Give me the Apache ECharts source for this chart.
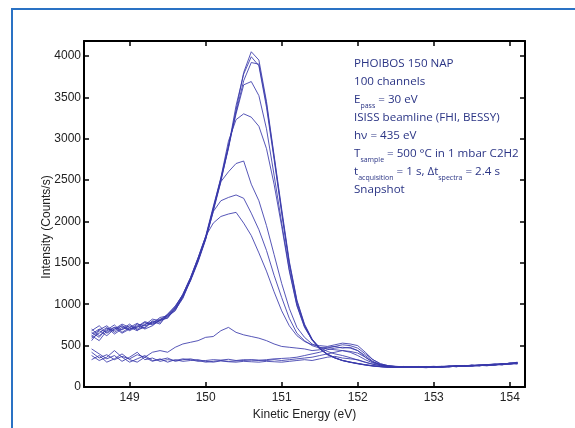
<!DOCTYPE html>
<html>
<head>
<meta charset="utf-8">
<script src="https://cdn.jsdelivr.net/npm/echarts@6/dist/echarts.min.js"></script>
<style>html,body{margin:0;padding:0;background:#fff;}#c{width:575px;height:428px;}</style>
</head>
<body>
<div id="c"></div>
<script>
// Kinetic energy (eV) channels
const energy = [148.5,148.6,148.7,148.8,148.9,149.0,149.1,149.2,149.3,149.4,
  149.5,149.6,149.7,149.8,149.9,150.0,150.1,150.2,150.3,150.4,
  150.5,150.6,150.7,150.8,150.9,151.0,151.1,151.2,151.3,151.4,
  151.5,151.6,151.7,151.8,151.9,152.0,152.1,152.2,152.3,152.4,
  152.5,152.6,152.7,152.8,152.9,153.0,153.1,153.2,153.3,153.4,
  153.5,153.6,153.7,153.8,153.9,154.0,154.1];

// Snapshot spectra (Counts/s)
const spec1 = [640,700,660,720,690,740,700,760,780,820,
  850,940,1080,1300,1540,1800,2150,2500,2880,3350,
  3800,4050,3950,3450,2800,2150,1520,1050,760,580,
  470,400,355,320,300,285,268,258,248,242,
  238,245,240,236,244,240,248,252,245,258,
  262,255,270,275,268,290,285];
const spec2 = [590,650,720,640,700,760,690,720,800,780,
  860,920,1100,1280,1510,1780,2120,2480,2900,3400,
  3780,3990,3880,3380,2750,2100,1480,1020,740,570,
  460,390,350,318,298,280,265,252,244,238,
  242,236,244,240,232,246,242,250,256,248,
  260,266,258,272,280,276,292];
const spec3 = [700,620,690,750,660,720,770,700,740,810,
  830,960,1120,1320,1560,1820,2180,2520,2920,3320,
  3700,3920,3900,3420,2780,2120,1500,1040,750,575,
  465,395,352,322,302,284,270,256,246,240,
  236,242,238,244,238,236,246,244,252,256,
  250,262,268,264,278,282,296];
const spec4 = [560,680,620,700,740,680,730,790,760,800,
  870,950,1090,1290,1520,1790,2140,2510,2900,3300,
  3650,3690,3520,3120,2560,1980,1420,990,730,565,
  460,395,350,320,300,282,266,254,246,238,
  240,244,236,242,240,244,238,250,246,256,
  252,260,270,268,276,288,280];
const spec5 = [620,560,680,720,650,700,740,710,790,760,
  880,980,1110,1310,1550,1810,2160,2530,2970,3230,
  3300,3260,3150,2880,2450,1940,1400,980,720,570,
  480,430,400,380,355,325,298,275,258,248,
  244,238,246,240,248,236,244,248,254,250,
  258,264,262,274,270,284,292];
const spec6 = [680,740,650,700,760,720,680,750,820,800,
  840,930,1070,1290,1530,1800,2150,2480,2600,2700,
  2730,2450,2250,1950,1600,1250,950,720,600,520,
  480,460,450,440,420,380,330,290,265,250,
  242,248,240,236,244,250,242,246,258,252,
  262,258,270,266,282,278,290];
const spec7 = [610,690,740,660,720,690,760,740,770,840,
  860,950,1100,1300,1530,1790,2120,2250,2290,2320,
  2280,2100,1900,1650,1350,1080,830,650,560,500,
  470,480,490,470,480,440,360,300,270,252,
  246,240,248,242,238,246,250,244,252,260,
  256,264,272,268,280,286,284];
const spec8 = [660,600,710,680,740,700,720,780,750,810,
  880,970,1120,1320,1560,1820,1980,2060,2090,2110,
  1980,1830,1620,1400,1150,920,740,620,550,510,
  500,490,510,530,520,500,420,330,280,258,
  248,242,238,246,240,244,248,242,256,254,
  262,256,266,276,272,288,294];
const spec9 = [420,350,390,330,370,340,390,360,420,440,
  420,480,520,540,560,600,610,680,720,660,
  630,610,590,560,520,490,480,470,460,440,
  450,470,490,510,500,470,400,330,280,258,
  250,244,240,248,242,246,238,250,256,252,
  264,260,270,278,274,284,300];
const spec10 = [460,400,340,380,310,360,420,330,350,310,
  330,320,340,330,310,320,330,325,335,320,
  330,325,320,330,340,345,350,360,380,400,
  420,450,470,480,470,440,380,310,270,255,
  246,240,248,244,236,242,248,252,246,258,
  256,266,262,272,280,276,288];
const spec11 = [380,320,360,440,360,300,340,380,320,330,
  350,310,330,340,320,300,310,320,310,315,
  320,330,325,320,330,320,330,340,350,360,
  380,400,420,440,430,410,360,300,268,250,
  244,248,238,242,246,238,244,254,250,256,
  262,258,268,264,276,282,278];
const spec12 = [330,380,300,340,400,330,300,360,310,340,
  300,330,310,320,330,310,300,315,305,300,
  310,305,300,310,305,300,310,320,330,320,
  340,360,370,350,340,330,300,275,258,246,
  240,244,242,236,240,246,240,248,252,250,
  258,262,256,270,268,280,286];

const spectra = [spec1,spec2,spec3,spec4,spec5,spec6,spec7,spec8,spec9,spec10,spec11,spec12];

const xTicks = [149,150,151,152,153,154];
const yTicks = [0,500,1000,1500,2000,2500,3000,3500,4000];

const annotation = [
  'PHOIBOS 150 NAP',
  '100 channels',
  'E{s|pass} = 30 eV',
  'ISISS beamline (FHI, BESSY)',
  'hν = 435 eV',
  'T{s|sample} = 500 °C in 1 mbar C2H2',
  't{s|acquisition} = 1 s, Δt{s|spectra} = 2.4 s',
  'Snapshot'
];

const axisFont = 'Liberation Sans, Arial, sans-serif';
const noteFont = '"Open Sans", sans-serif';
const lineColor = 'rgba(56,56,170,0.85)';

const chart = echarts.init(document.getElementById('c'), null, {renderer:'canvas'});

function plain(v){ return String(v); }

function xAx(pos, showLabel){
  return {
    type:'value', position:pos, min:148.4, max:154.2,
    axisLine:{show:true, onZero:false, lineStyle:{color:'#000', width:2}},
    axisTick:{show:true, inside:true, length:5, customValues:xTicks, lineStyle:{color:'#000', width:1.5}},
    axisLabel:{show:showLabel, customValues:xTicks, formatter:plain, color:'#222', fontSize:12, fontFamily:axisFont, margin:5},
    splitLine:{show:false},
    name: showLabel ? 'Kinetic Energy (eV)' : '',
    nameLocation:'middle', nameGap:19,
    nameTextStyle:{color:'#222', fontSize:12, fontFamily:axisFont}
  };
}
function yAx(pos, showLabel){
  return {
    type:'value', position:pos, min:0, max:4180,
    axisLine:{show:true, onZero:false, lineStyle:{color:'#000', width:2}},
    axisTick:{show:true, inside:true, length:5, customValues:yTicks, lineStyle:{color:'#000', width:1.5}},
    axisLabel:{show:showLabel, customValues:yTicks, formatter:plain, color:'#222', fontSize:12, fontFamily:axisFont, margin:3},
    splitLine:{show:false}
  };
}

const option = {
  backgroundColor:'#fff',
  animation:false,
  grid:{left:84, right:50, top:41, bottom:41, containLabel:false},
  xAxis:[xAx('bottom', true), xAx('top', false)],
  yAxis:[yAx('left', true), yAx('right', false)],
  series: spectra.map(function(s, i){
    return {
      type:'line', xAxisIndex:0, yAxisIndex:0,
      data: energy.map(function(e, j){ return [e, s[j]]; }),
      showSymbol:false, symbol:'none',
      lineStyle:{color:lineColor, width:1},
      z: 2
    };
  }),
  graphic:[
    {type:'rect', shape:{x:12, y:9, width:700, height:600}, style:{fill:'none', stroke:'#2a72c4', lineWidth:2}, silent:true},
    {type:'text', x:47, y:227, rotation:Math.PI/2, style:{text:'Intensity (Counts/s)', fill:'#222', font:'12px ' + axisFont, align:'center', verticalAlign:'middle'}},
    {type:'text', x:354, y:55, style:{
      text: annotation.join('\n'),
      fill:'#2b3585', font:'11.6px ' + noteFont, lineHeight:18,
      rich:{ s:{fontSize:7, fontFamily:noteFont, fill:'#2b3585', verticalAlign:'bottom'} }
    }}
  ]
};
chart.setOption(option);
</script>
</body>
</html>
